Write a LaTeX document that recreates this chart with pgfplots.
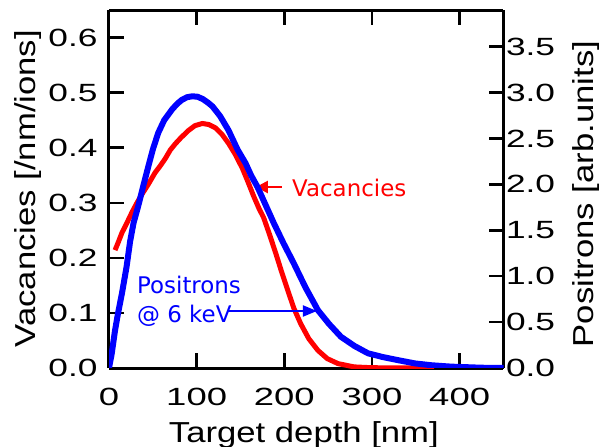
\documentclass[border=0pt]{standalone}
\usepackage{fontspec}
\setmainfont{Liberation Sans}[FakeStretch=1.2]
\newfontfamily\annfont{DejaVu Sans}
\usepackage{graphicx}
\usepackage{pgfplots}
\pgfplotsset{compat=1.18}
\usetikzlibrary{arrows.meta}

\definecolor{vacred}{RGB}{255,0,0}
\definecolor{posblue}{RGB}{0,0,255}

\pgfplotsset{
  depthaxis/.style={
    scale only axis, width=394.5bp, height=358bp,
    xmin=0, xmax=450,
    tick align=inside, major tick length=15bp,
    axis line style={line width=3bp, black},
    tick style={line width=2.5bp, black},
    /pgf/number format/assume math mode=true,
    tick label style={font=\fontsize{25}{30}\selectfont},
    label style={font=\fontsize{29}{34}\selectfont},
    xticklabel={\scalebox{1.22}[1]{\pgfmathprintnumber{\tick}}},
    yticklabel={\scalebox{1.18}[1]{\pgfmathprintnumber[fixed,fixed zerofill,precision=1]{\tick}}},
  },
}

\begin{document}
\begin{tikzpicture}
% Vacancy profile (left axis)
\begin{axis}[depthaxis, name=main,
  ymin=0, ymax=0.65,
  axis y line*=left,
  xtick={0,100,200,300,400},
  ytick={0,0.1,0.2,0.3,0.4,0.5,0.6},
  xticklabel style={yshift=-17bp},
  yticklabel style={xshift=-8bp},
  xlabel={Target depth [nm]},
  ylabel={Vacancies [/nm/ions]},
  xlabel style={at={(axis description cs:0.494,0)}, anchor=base, yshift=-74bp},
  ylabel style={at={(axis description cs:-0.205,0.501)}, anchor=center},
]
\addplot[vacred, line width=5bp, line join=round] coordinates {
  (6.9,0.214) (10,0.226) (14.9,0.246) (20,0.262) (26.3,0.283) (32,0.300)
  (37.8,0.316) (45,0.334) (52.7,0.355) (58,0.366) (64.1,0.380) (70,0.396)
  (75.6,0.407) (82,0.418) (90.5,0.431) (98,0.440) (106.5,0.444) (114,0.442)
  (121.4,0.436) (129,0.424) (136.3,0.408) (144,0.388) (152.3,0.362) (158,0.340)
  (165,0.312) (171,0.290) (176.4,0.273) (183,0.243) (190.1,0.209) (197,0.174)
  (203.9,0.141) (211,0.108) (218.8,0.080) (228,0.053) (238.3,0.032) (249,0.017)
  (261.2,0.008) (279.5,0.002) (300,0.0005) (371,0)
};
% annotations
\node[anchor=base west, text=vacred, font=\annfont\fontsize{23}{28}\selectfont, inner sep=0pt]
  at (axis cs:208.7,0.312) {Vacancies};
\draw[vacred, line width=2.5bp, -{Triangle[length=12bp,width=12bp]}]
  (axis cs:197.3,0.3286) -- (axis cs:167.6,0.3286);
\node[anchor=base west, text=posblue, font=\annfont\fontsize{23}{28}\selectfont, inner sep=0pt]
  at (axis cs:31.9,0.136) {Positrons};
\node[anchor=base west, text=posblue, font=\annfont\fontsize{23}{28}\selectfont, inner sep=0pt]
  at (axis cs:31.9,0.0835) {@ 6 keV};
\draw[posblue, line width=2bp, -{Triangle[length=14bp,width=11bp]}]
  (axis cs:135.7,0.1035) -- (axis cs:237.2,0.1035);
\end{axis}

% Positron implantation profile (right axis)
\begin{axis}[depthaxis,
  ymin=0, ymax=3.9,
  axis y line*=right, axis x line=none,
  ytick={0,0.5,1,1.5,2,2.5,3,3.5},
  yticklabel style={xshift=-1bp},
  ylabel={Positrons [arb.units]},
  ylabel style={at={(axis description cs:1.209,0.486)}, anchor=center},
]
\addplot[posblue, line width=6bp, line join=round] coordinates {
  (0,0) (3,0.15) (6.9,0.41) (10,0.58) (14.9,0.82) (20,1.10) (24.1,1.38)
  (28,1.58) (33.2,1.76) (39,1.98) (44.7,2.19) (50,2.38) (56.1,2.56) (63,2.70)
  (72.2,2.82) (78,2.88) (83,2.92) (89,2.95) (95.1,2.96) (101,2.955) (107,2.93)
  (113,2.89) (118,2.85) (123,2.79) (127,2.74)
  (136.3,2.59) (146.6,2.38) (155.8,2.23) (162,2.10) (169.5,1.97) (178,1.79)
  (187.9,1.58) (199,1.36) (210.8,1.14) (224,0.88) (238.3,0.63) (251,0.48)
  (264.6,0.34) (280,0.24) (295.5,0.16) (312,0.12) (329.9,0.085) (349,0.05)
  (367.7,0.03) (390,0.015) (425,0.003) (450,0)
};
\end{axis}

\pgfresetboundingbox
\path[use as bounding box] ([xshift=-109bp,yshift=-79bp]main.south west) rectangle ++(606bp,447bp);
\end{tikzpicture}
\end{document}
